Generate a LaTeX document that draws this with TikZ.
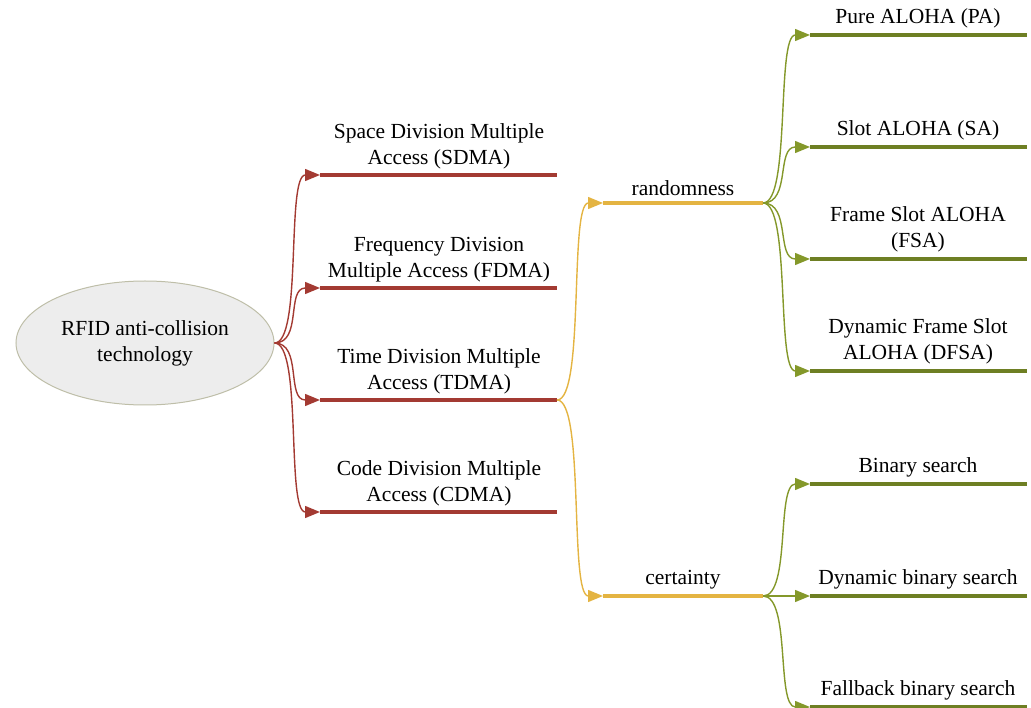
\documentclass[tikz,border=0pt]{standalone}
\usepackage{fontspec}
\setmainfont{Liberation Serif}
\usetikzlibrary{shapes.geometric,arrows.meta,calc}
\definecolor{techred}{RGB}{163,58,50}
\definecolor{techyellow}{RGB}{228,180,66}
\definecolor{techgreen}{RGB}{110,127,35}
\definecolor{linkgreen}{RGB}{132,152,42}
\definecolor{rootfill}{RGB}{237,237,237}
\definecolor{rootedge}{RGB}{190,190,168}
\tikzset{
  bar/.style={line width=4pt},
  link/.style={line width=1.4pt,-{Triangle[length=15pt,width=12pt]}},
  lbl/.style={anchor=south,align=center,font=\fontsize{21.5}{25.5}\selectfont,inner sep=0pt},
}
\begin{document}
\begin{tikzpicture}[x=1pt,y=-1pt]
\useasboundingbox (0,0) rectangle (1031,708);

% root
\node[ellipse,draw=rootedge,fill=rootfill,line width=1pt,minimum width=258pt,minimum height=124pt,
      align=center,font=\fontsize{21.5}{26}\selectfont] (root) at (145,343) {RFID anti-collision\\technology};

% first level: multiple access methods
\foreach \n/\y/\t in {sdma/175/{Space Division Multiple\\Access (SDMA)},
                      fdma/288/{Frequency Division\\Multiple Access (FDMA)},
                      tdma/400/{Time Division Multiple\\Access (TDMA)},
                      cdma/512/{Code Division Multiple\\Access (CDMA)}}{
  \coordinate (\n L) at (320,\y);
  \coordinate (\n R) at (557,\y);
  \draw[bar,techred] (\n L) -- (\n R);
  \node[lbl] (\n T) at (439,\y-6) {\t};
  \draw[link,techred] (root.east) .. controls ++(28,0) and ($(\n L)+(-34,0)$) .. (\n L);
}

% second level: TDMA classes
\foreach \n/\y/\t in {rnd/203/randomness, cer/596/certainty}{
  \coordinate (\n L) at (603,\y);
  \coordinate (\n R) at (763,\y);
  \draw[bar,techyellow] (\n L) -- (\n R);
  \node[lbl] (\n T) at (683,\y-7) {\t};
  \draw[link,techyellow] (tdmaR) .. controls ++(28,0) and ($(\n L)+(-34,0)$) .. (\n L);
}

% third level: algorithms
\foreach \p/\n/\y/\t in {rnd/pa/35/{Pure ALOHA (PA)},
                         rnd/sa/147/{Slot ALOHA (SA)},
                         rnd/fsa/259/{Frame Slot ALOHA\\(FSA)},
                         rnd/dfsa/371/{Dynamic Frame Slot\\ALOHA (DFSA)},
                         cer/bs/484/{Binary search},
                         cer/dbs/596/{Dynamic binary search},
                         cer/fbs/707/{Fallback binary search}}{
  \coordinate (\n L) at (810,\y);
  \coordinate (\n R) at (1027,\y);
  \draw[bar,techgreen] (\n L) -- (\n R);
  \node[lbl] (\n T) at (918,\y-7) {\t};
  \draw[link,linkgreen] (\p R) .. controls ++(28,0) and ($(\n L)+(-34,0)$) .. (\n L);
}
\end{tikzpicture}
\end{document}
